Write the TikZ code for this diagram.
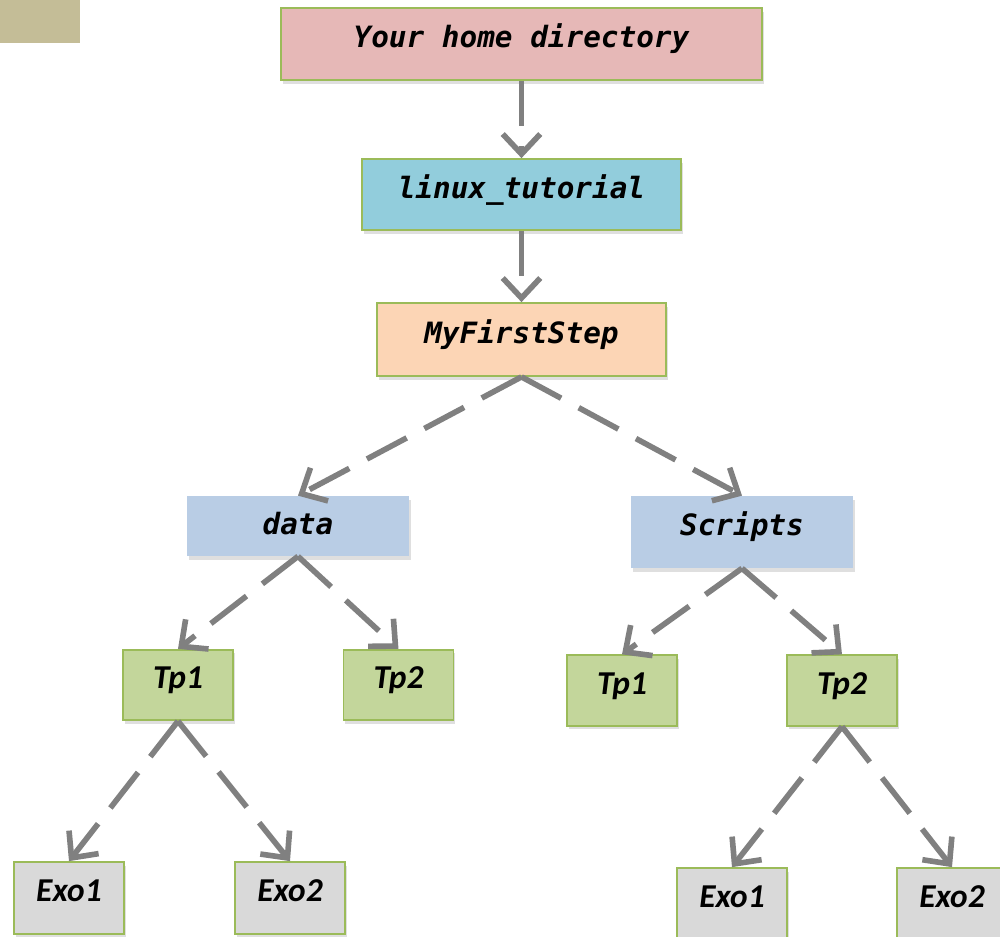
\documentclass[tikz,border=0pt]{standalone}
\usepackage{fontspec}
\usepackage{xcolor}
\newfontfamily\dirfont{DejaVu Sans Mono}
\newfontfamily\tpfont{Carlito}
\usetikzlibrary{positioning,shadows,arrows.meta}

\definecolor{tabtan}{HTML}{C4BD97}
\definecolor{homered}{HTML}{E6B8B7}
\definecolor{linuxblue}{HTML}{92CDDC}
\definecolor{steporange}{HTML}{FCD5B5}
\definecolor{folderblue}{HTML}{B9CDE5}
\definecolor{tpgreen}{HTML}{C3D69B}
\definecolor{exogray}{HTML}{D9D9D9}
\definecolor{edgegreen}{HTML}{9BBB59}
\definecolor{arrowgray}{HTML}{808080}

\begin{document}
\begin{tikzpicture}[
        on grid,
        inner sep=0pt,
        every node/.style={text height=0.75em, text depth=0.3em},
        shade/.style={drop shadow={opacity=0.25, shadow xshift=0.04cm, shadow yshift=-0.07cm}},
        dirbox/.style={rectangle, draw=edgegreen, line width=1pt, shade,
            font=\dirfont\bfseries\itshape\fontsize{16.7}{18}\selectfont},
        folderbox/.style={rectangle, fill=folderblue, shade,
            minimum width=4.44cm,
            font=\dirfont\bfseries\itshape\fontsize{16.7}{18}\selectfont},
        tpbox/.style={rectangle, draw=edgegreen, fill=tpgreen, line width=1pt, shade,
            minimum width=2.2cm, minimum height=1.41cm,
            font=\tpfont\bfseries\itshape\fontsize{19}{21}\selectfont},
        exobox/.style={tpbox, fill=exogray, minimum height=1.44cm},
        link/.style={draw=arrowgray, line width=3.2pt,
            dash pattern=on 0.9cm off 0.4cm,
            -{Straight Barb[length=0.4cm, width=0.75cm]}}]

    \clip (-10.43,0.88) rectangle (9.57,-17.84);

    % NODES
    % corner tab
    \node[fill=tabtan, minimum width=1.6cm, minimum height=0.86cm] (tab) at (-9.63,0.45) {};

    % main chain
    \node[dirbox, fill=homered, minimum width=9.62cm, minimum height=1.44cm] (home) at (0,0) {Your home directory};
    \node[dirbox, fill=linuxblue, minimum width=6.38cm, minimum height=1.42cm, below=3.01cm of home] (linux) {linux\_tutorial};
    \node[dirbox, fill=steporange, minimum width=5.78cm, minimum height=1.46cm, below=2.9cm of linux] (myfirst) {MyFirstStep};

    % folders
    \node[folderbox, minimum height=1.2cm, text height=1.1em, text depth=0.1em, below left=3.73cm and 4.47cm of myfirst] (data) {data};
    \node[folderbox, minimum height=1.44cm, below right=3.85cm and 4.41cm of myfirst] (scripts) {Scripts};

    % data subtree
    \node[tpbox, below left=3.18cm and 2.4cm of data] (dataTp1) {Tp1};
    \node[tpbox, below right=3.18cm and 2.01cm of data] (dataTp2) {Tp2};
    \node[exobox, below left=4.26cm and 2.18cm of dataTp1] (dataExo1) {Exo1};
    \node[exobox, below right=4.26cm and 2.24cm of dataTp1] (dataExo2) {Exo2};

    % scripts subtree
    \node[tpbox, below left=3.17cm and 2.4cm of scripts] (scriptsTp1) {Tp1};
    \node[tpbox, below right=3.17cm and 2.0cm of scripts] (scriptsTp2) {Tp2};
    \node[exobox, below left=4.27cm and 2.2cm of scriptsTp2] (scriptsExo1) {Exo1};
    \node[exobox, below right=4.27cm and 2.2cm of scriptsTp2] (scriptsExo2) {Exo2};

    % ARROWS
    \draw[link] (home.south) -- (linux.north);
    \draw[link] (linux.south) -- (myfirst.north);
    \draw[link] (myfirst.south) -- (data.north);
    \draw[link] (myfirst.south) -- (scripts.north);
    \draw[link] (data.south) -- (dataTp1.north);
    \draw[link] (data.south) -- (dataTp2.north);
    \draw[link] (scripts.south) -- (scriptsTp1.north);
    \draw[link] (scripts.south) -- (scriptsTp2.north);
    \draw[link] (dataTp1.south) -- (dataExo1.north);
    \draw[link] (dataTp1.south) -- (dataExo2.north);
    \draw[link] (scriptsTp2.south) -- (scriptsExo1.north);
    \draw[link] (scriptsTp2.south) -- (scriptsExo2.north);
\end{tikzpicture}
\end{document}
